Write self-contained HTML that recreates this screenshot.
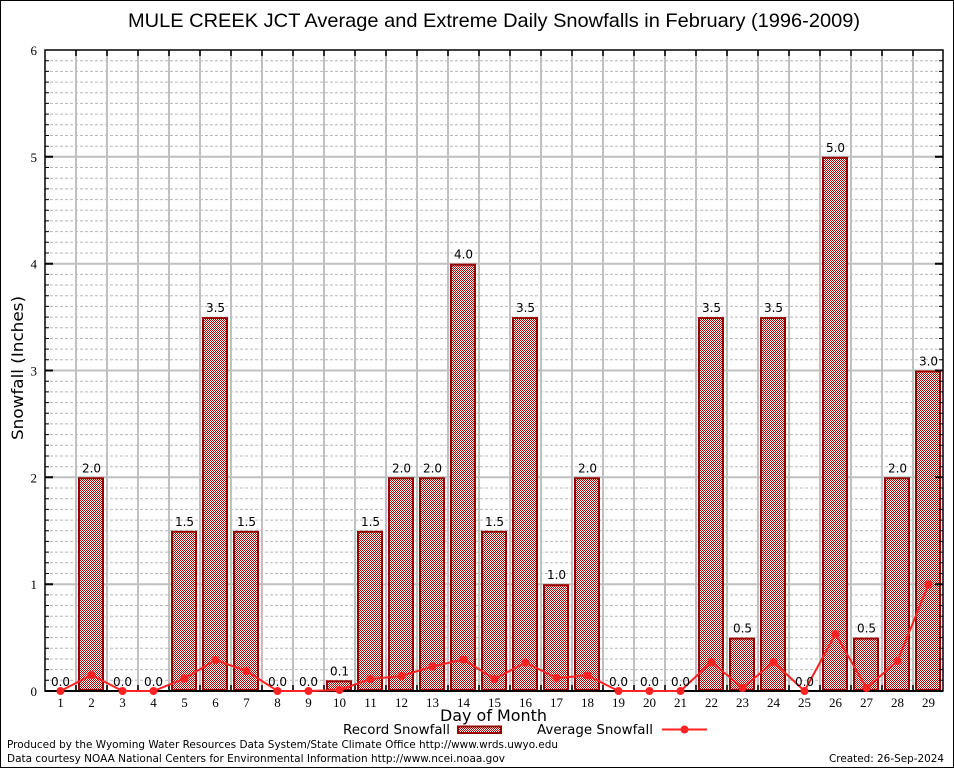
<!DOCTYPE html>
<html>
<head>
<meta charset="utf-8">
<style>
html,body{margin:0;padding:0;background:#fff;}
svg{display:block;}
</style>
</head>
<body>
<svg width="954" height="768" viewBox="0 0 954 768" xmlns="http://www.w3.org/2000/svg">
<defs>
<pattern id="hp" width="2" height="2" patternUnits="userSpaceOnUse">
<rect width="2" height="2" fill="#ffffff"/>
<rect width="1" height="1" fill="#b00000"/>
<rect x="1" y="1" width="1" height="1" fill="#b00000"/>
</pattern>
</defs>
<rect x="0" y="0" width="954" height="768" fill="#fff"/>
<rect x="0.5" y="0.5" width="953" height="767" fill="none" stroke="#000" stroke-width="1"/>

<text x="494" y="27" text-anchor="middle" font-family="Liberation Sans, sans-serif" font-size="19.5" textLength="732" lengthAdjust="spacingAndGlyphs" fill="#000">MULE CREEK JCT Average and Extreme Daily Snowfalls in February (1996-2009)</text>

<path fill="none" stroke="#b8b8b8" stroke-width="1" stroke-dasharray="3,2" d="M45 680.3H943M45 669.6H943M45 659H943M45 648.3H943M45 637.6H943M45 626.9H943M45 616.2H943M45 605.5H943M45 594.9H943M45 573.5H943M45 562.8H943M45 552.1H943M45 541.4H943M45 530.8H943M45 520.1H943M45 509.4H943M45 498.7H943M45 488H943M45 466.7H943M45 456H943M45 445.3H943M45 434.6H943M45 423.9H943M45 413.2H943M45 402.6H943M45 391.9H943M45 381.2H943M45 359.8H943M45 349.1H943M45 338.5H943M45 327.8H943M45 317.1H943M45 306.4H943M45 295.7H943M45 285H943M45 274.4H943M45 253H943M45 242.3H943M45 231.6H943M45 220.9H943M45 210.3H943M45 199.6H943M45 188.9H943M45 178.2H943M45 167.5H943M45 146.2H943M45 135.5H943M45 124.8H943M45 114.1H943M45 103.4H943M45 92.7H943M45 82.1H943M45 71.4H943M45 60.7H943"/>
<path fill="none" stroke="#c0c0c0" stroke-width="2" d="M45 584.2H943M45 477.3H943M45 370.5H943M45 263.7H943M45 156.8H943"/>
<path fill="none" stroke="#c0c0c0" stroke-width="2" d="M76 50V691M107 50V691M138 50V691M169 50V691M200 50V691M231 50V691M262 50V691M293 50V691M324 50V691M355 50V691M386 50V691M417 50V691M448 50V691M479 50V691M510 50V691M541 50V691M572 50V691M603 50V691M634 50V691M665 50V691M696 50V691M727 50V691M758 50V691M789 50V691M820 50V691M851 50V691M882 50V691M913 50V691"/>

<g fill="url(#hp)" stroke="#990000" stroke-width="2">
<rect x="79" y="478.3" width="24" height="211.7"/>
<rect x="172" y="531.8" width="24" height="158.2"/>
<rect x="203" y="318.1" width="24" height="371.9"/>
<rect x="234" y="531.8" width="24" height="158.2"/>
<rect x="327" y="681.3" width="24" height="8.7"/>
<rect x="358" y="531.8" width="24" height="158.2"/>
<rect x="389" y="478.3" width="24" height="211.7"/>
<rect x="420" y="478.3" width="24" height="211.7"/>
<rect x="451" y="264.7" width="24" height="425.3"/>
<rect x="482" y="531.8" width="24" height="158.2"/>
<rect x="513" y="318.1" width="24" height="371.9"/>
<rect x="544" y="585.2" width="24" height="104.8"/>
<rect x="575" y="478.3" width="24" height="211.7"/>
<rect x="699" y="318.1" width="24" height="371.9"/>
<rect x="730" y="638.6" width="24" height="51.4"/>
<rect x="761" y="318.1" width="24" height="371.9"/>
<rect x="823" y="157.8" width="24" height="532.2"/>
<rect x="854" y="638.6" width="24" height="51.4"/>
<rect x="885" y="478.3" width="24" height="211.7"/>
<rect x="916" y="371.5" width="24" height="318.5"/>
</g>

<g fill="none" stroke="#000" stroke-width="1">
<path stroke-dasharray="4 890 4 10" d="M45 680.3H943M45 669.6H943M45 659H943M45 648.3H943M45 637.6H943M45 626.9H943M45 616.2H943M45 605.5H943M45 594.9H943M45 573.5H943M45 562.8H943M45 552.1H943M45 541.4H943M45 530.8H943M45 520.1H943M45 509.4H943M45 498.7H943M45 488H943M45 466.7H943M45 456H943M45 445.3H943M45 434.6H943M45 423.9H943M45 413.2H943M45 402.6H943M45 391.9H943M45 381.2H943M45 359.8H943M45 349.1H943M45 338.5H943M45 327.8H943M45 317.1H943M45 306.4H943M45 295.7H943M45 285H943M45 274.4H943M45 253H943M45 242.3H943M45 231.6H943M45 220.9H943M45 210.3H943M45 199.6H943M45 188.9H943M45 178.2H943M45 167.5H943M45 146.2H943M45 135.5H943M45 124.8H943M45 114.1H943M45 103.4H943M45 92.7H943M45 82.1H943M45 71.4H943M45 60.7H943"/>
<path stroke-width="2" stroke-dasharray="8 882 8 10" d="M45 584.2H943M45 477.3H943M45 370.5H943M45 263.7H943M45 156.8H943"/>
<path stroke-width="1.5" stroke-dasharray="6 629 6 10" d="M76 50V691M107 50V691M138 50V691M169 50V691M200 50V691M231 50V691M262 50V691M293 50V691M324 50V691M355 50V691M386 50V691M417 50V691M448 50V691M479 50V691M510 50V691M541 50V691M572 50V691M603 50V691M634 50V691M665 50V691M696 50V691M727 50V691M758 50V691M789 50V691M820 50V691M851 50V691M882 50V691M913 50V691"/>
</g>

<rect x="45" y="50" width="898" height="641" fill="none" stroke="#000" stroke-width="1.5"/>
<line x1="45" y1="691" x2="943" y2="691" stroke="#000" stroke-width="2"/>

<polyline fill="none" stroke="#ff2222" stroke-width="2" points="60.5,691 91.5,675 122.5,691 153.5,691 184.5,678.5 215.5,660 246.5,671 277.5,691 308.5,691 339.5,690 370.5,679 401.5,676 432.5,666.5 463.5,659.5 494.5,679 525.5,662.5 556.5,678 587.5,675.5 618.5,691 649.5,691 680.5,691 711.5,662 742.5,688 773.5,662 804.5,691 835.5,634 866.5,688 897.5,661 928.5,584.5"/>
<g fill="#ff2222">
<circle cx="60.5" cy="691" r="4"/><circle cx="91.5" cy="675" r="4"/><circle cx="122.5" cy="691" r="4"/><circle cx="153.5" cy="691" r="4"/><circle cx="184.5" cy="678.5" r="4"/><circle cx="215.5" cy="660" r="4"/><circle cx="246.5" cy="671" r="4"/><circle cx="277.5" cy="691" r="4"/><circle cx="308.5" cy="691" r="4"/><circle cx="339.5" cy="690" r="4"/><circle cx="370.5" cy="679" r="4"/><circle cx="401.5" cy="676" r="4"/><circle cx="432.5" cy="666.5" r="4"/><circle cx="463.5" cy="659.5" r="4"/><circle cx="494.5" cy="679" r="4"/><circle cx="525.5" cy="662.5" r="4"/><circle cx="556.5" cy="678" r="4"/><circle cx="587.5" cy="675.5" r="4"/><circle cx="618.5" cy="691" r="4"/><circle cx="649.5" cy="691" r="4"/><circle cx="680.5" cy="691" r="4"/><circle cx="711.5" cy="662" r="4"/><circle cx="742.5" cy="688" r="4"/><circle cx="773.5" cy="662" r="4"/><circle cx="804.5" cy="691" r="4"/><circle cx="835.5" cy="634" r="4"/><circle cx="866.5" cy="688" r="4"/><circle cx="897.5" cy="661" r="4"/><circle cx="928.5" cy="584.5" r="4"/>
</g>

<g font-family="DejaVu Sans, Liberation Sans, sans-serif" font-size="12" text-anchor="middle" fill="#000">
<text x="60.5" y="686">0.0</text>
<text x="91.5" y="472.3">2.0</text>
<text x="122.5" y="686">0.0</text>
<text x="153.5" y="686">0.0</text>
<text x="184.5" y="525.8">1.5</text>
<text x="215.5" y="312.1">3.5</text>
<text x="246.5" y="525.8">1.5</text>
<text x="277.5" y="686">0.0</text>
<text x="308.5" y="686">0.0</text>
<text x="339.5" y="675.3">0.1</text>
<text x="370.5" y="525.8">1.5</text>
<text x="401.5" y="472.3">2.0</text>
<text x="432.5" y="472.3">2.0</text>
<text x="463.5" y="258.7">4.0</text>
<text x="494.5" y="525.8">1.5</text>
<text x="525.5" y="312.1">3.5</text>
<text x="556.5" y="579.2">1.0</text>
<text x="587.5" y="472.3">2.0</text>
<text x="618.5" y="686">0.0</text>
<text x="649.5" y="686">0.0</text>
<text x="680.5" y="686">0.0</text>
<text x="711.5" y="312.1">3.5</text>
<text x="742.5" y="632.6">0.5</text>
<text x="773.5" y="312.1">3.5</text>
<text x="804.5" y="686">0.0</text>
<text x="835.5" y="151.8">5.0</text>
<text x="866.5" y="632.6">0.5</text>
<text x="897.5" y="472.3">2.0</text>
<text x="928.5" y="365.5">3.0</text>
</g>

<g font-family="Liberation Serif, serif" font-size="13" text-anchor="middle" fill="#000">
<text x="60.5" y="707">1</text><text x="91.5" y="707">2</text><text x="122.5" y="707">3</text><text x="153.5" y="707">4</text><text x="184.5" y="707">5</text><text x="215.5" y="707">6</text><text x="246.5" y="707">7</text><text x="277.5" y="707">8</text><text x="308.5" y="707">9</text><text x="339.5" y="707">10</text><text x="370.5" y="707">11</text><text x="401.5" y="707">12</text><text x="432.5" y="707">13</text><text x="463.5" y="707">14</text><text x="494.5" y="707">15</text><text x="525.5" y="707">16</text><text x="556.5" y="707">17</text><text x="587.5" y="707">18</text><text x="618.5" y="707">19</text><text x="649.5" y="707">20</text><text x="680.5" y="707">21</text><text x="711.5" y="707">22</text><text x="742.5" y="707">23</text><text x="773.5" y="707">24</text><text x="804.5" y="707">25</text><text x="835.5" y="707">26</text><text x="866.5" y="707">27</text><text x="897.5" y="707">28</text><text x="928.5" y="707">29</text>
</g>

<g font-family="Liberation Serif, serif" font-size="13" text-anchor="end" fill="#000">
<text x="37" y="55">6</text>
<text x="37" y="161.8">5</text>
<text x="37" y="268.7">4</text>
<text x="37" y="375.5">3</text>
<text x="37" y="482.3">2</text>
<text x="37" y="589.2">1</text>
<text x="37" y="696">0</text>
</g>

<text transform="translate(23,368) rotate(-90)" text-anchor="middle" font-family="DejaVu Sans, Liberation Sans, sans-serif" font-size="16" textLength="144" lengthAdjust="spacingAndGlyphs" fill="#000">Snowfall (Inches)</text>
<text x="493.5" y="721" text-anchor="middle" font-family="DejaVu Sans, Liberation Sans, sans-serif" font-size="16" textLength="107" lengthAdjust="spacingAndGlyphs" fill="#000">Day of Month</text>

<text x="343" y="734" font-family="DejaVu Sans, Liberation Sans, sans-serif" font-size="13" textLength="107" lengthAdjust="spacingAndGlyphs" fill="#000">Record Snowfall</text>
<rect x="458" y="726.5" width="43" height="6.5" fill="url(#hp)" stroke="#990000" stroke-width="2"/>
<text x="537" y="734" font-family="DejaVu Sans, Liberation Sans, sans-serif" font-size="13" textLength="116" lengthAdjust="spacingAndGlyphs" fill="#000">Average Snowfall</text>
<line x1="662" y1="729.5" x2="707" y2="729.5" stroke="#ff2222" stroke-width="2"/>
<circle cx="684.5" cy="729.5" r="4" fill="#ff2222"/>

<text x="7" y="748" font-family="DejaVu Sans, Liberation Sans, sans-serif" font-size="11" textLength="551" lengthAdjust="spacingAndGlyphs" fill="#000">Produced by the Wyoming Water Resources Data System/State Climate Office http://www.wrds.uwyo.edu</text>
<text x="7" y="762" font-family="DejaVu Sans, Liberation Sans, sans-serif" font-size="11" textLength="498" lengthAdjust="spacingAndGlyphs" fill="#000">Data courtesy NOAA National Centers for Environmental Information http://www.ncei.noaa.gov</text>
<text x="944" y="762" text-anchor="end" font-family="DejaVu Sans, Liberation Sans, sans-serif" font-size="11" textLength="115" lengthAdjust="spacingAndGlyphs" fill="#000">Created: 26-Sep-2024</text>
</svg>
</body>
</html>
